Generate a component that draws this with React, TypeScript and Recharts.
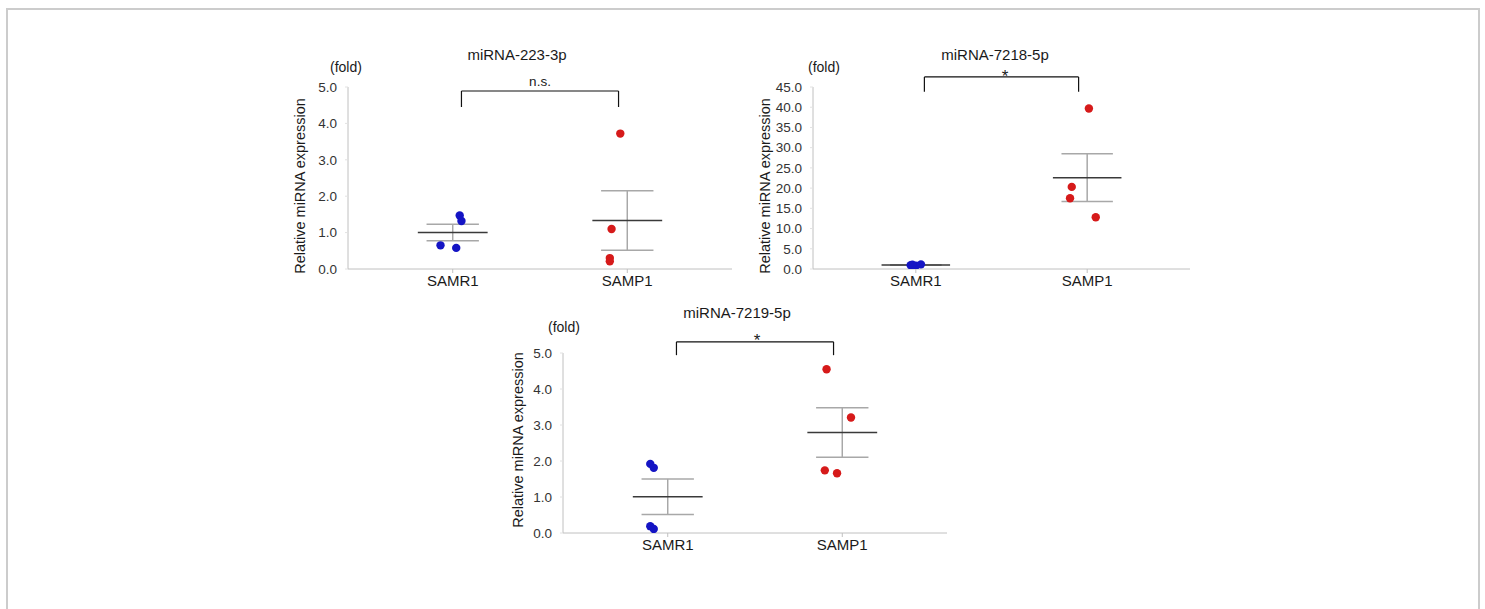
import React from 'react';
import { ComposedChart, Scatter, XAxis, YAxis, ReferenceLine } from 'recharts';

// group names and where they sit on the x scale
const groups = ['SAMR1', 'SAMP1'];
const groupPos = [0.6, 1.6];

// values (fold change)
const mir223Samr1 = [1.47, 1.32, 0.65, 0.58];
const mir223Samp1 = [3.72, 1.1, 0.3, 0.21];
const mir7218Samr1 = [0.95, 0.8, 1.15, 1.05];
const mir7218Samp1 = [39.7, 20.3, 17.5, 12.8];
const mir7219Samr1 = [1.92, 1.81, 0.19, 0.11];
const mir7219Samp1 = [4.55, 3.21, 1.74, 1.66];

// horizontal spread of the dots around each group
const jit223R = [0.04, 0.05, -0.07, 0.02];
const jit223P = [-0.04, -0.09, -0.1, -0.1];
const jit7218R = [-0.03, 0.0, 0.03, -0.02];
const jit7218P = [0.01, -0.09, -0.1, 0.05];
const jit7219R = [-0.1, -0.08, -0.1, -0.08];
const jit7219P = [-0.09, 0.05, -0.1, -0.03];

const ticks5 = [0, 1, 2, 3, 4, 5];
const ticks45 = [0, 5, 10, 15, 20, 25, 30, 35, 40, 45];

const FONT = '"Liberation Sans", Arial, sans-serif';
const BLUE = '#1414c4';
const RED = '#d61a1a';

const mean = (v: number[]) => v.reduce((a, b) => a + b, 0) / v.length;
const sem = (v: number[]) => {
  const m = mean(v);
  const sd = Math.sqrt(v.reduce((a, b) => a + (b - m) ** 2, 0) / (v.length - 1));
  return sd / Math.sqrt(v.length);
};

const toPoints = (vals: number[], jit: number[], pos: number) =>
  vals.map((y, i) => ({ x: pos + jit[i], y }));

const dot = (color: string) => (p: any) => <circle cx={p.cx} cy={p.cy} r={4.2} fill={color} />;

interface PanelProps {
  left: number;
  top: number;
  plotW: number;
  plotH: number;
  max: number;
  ticks: number[];
  r: number[];
  p: number[];
  jr: number[];
  jp: number[];
  bracket: [number, number];
}

function meanSemLines(vals: number[], pos: number, key: string) {
  const m = mean(vals);
  const s = sem(vals);
  const seg = (x1: number, y1: number, x2: number, y2: number, stroke: string, k: string) => (
    <ReferenceLine
      key={key + k}
      segment={[{ x: x1, y: y1 }, { x: x2, y: y2 }]}
      stroke={stroke}
      strokeWidth={1.5}
      ifOverflow="visible"
    />
  );
  return [
    seg(pos, m - s, pos, m + s, '#a8a8a8', 'v'),
    seg(pos - 0.15, m + s, pos + 0.15, m + s, '#a8a8a8', 't'),
    seg(pos - 0.15, m - s, pos + 0.15, m - s, '#a8a8a8', 'b'),
    seg(pos - 0.2, m, pos + 0.2, m, '#3a3a3a', 'm'),
  ];
}

function Panel({ left, top, plotW, plotH, max, ticks, r, p, jr, jp, bracket }: PanelProps) {
  const [bTop, bBot] = bracket;
  return (
    <div style={{ position: 'absolute', left, top }}>
      <ComposedChart width={40 + plotW} height={20 + plotH + 30} margin={{ top: 20, right: 0, bottom: 0, left: 0 }}>
        <XAxis
          type="number"
          dataKey="x"
          domain={[0, 2.2]}
          ticks={groupPos}
          interval={0}
          tickFormatter={(v: number) => groups[groupPos.indexOf(v)] ?? ''}
          height={30}
          stroke="#c0c0c0"
          tickSize={4}
          tick={{ fill: '#1a1a1a', fontSize: 15, fontFamily: FONT }}
          allowDataOverflow
        />
        <YAxis
          type="number"
          dataKey="y"
          domain={[0, max]}
          ticks={ticks}
          interval={0}
          tickFormatter={(v: number) => v.toFixed(1)}
          width={40}
          stroke="#c0c0c0"
          tickLine={{ stroke: '#e2e2e2' }}
          tickSize={3}
          tickMargin={8}
          tick={{ fill: '#333333', fontSize: 13.5, fontFamily: FONT }}
          allowDataOverflow
        />
        {meanSemLines(r, groupPos[0], 'r')}
        {meanSemLines(p, groupPos[1], 'p')}
        <ReferenceLine segment={[{ x: 0.65, y: bBot }, { x: 0.65, y: bTop }]} stroke="#111" strokeWidth={1.2} ifOverflow="visible" />
        <ReferenceLine segment={[{ x: 0.65, y: bTop }, { x: 1.55, y: bTop }]} stroke="#111" strokeWidth={1.2} ifOverflow="visible" />
        <ReferenceLine segment={[{ x: 1.55, y: bTop }, { x: 1.55, y: bBot }]} stroke="#111" strokeWidth={1.2} ifOverflow="visible" />
        <Scatter data={toPoints(r, jr, groupPos[0])} shape={dot(BLUE)} isAnimationActive={false} />
        <Scatter data={toPoints(p, jp, groupPos[1])} shape={dot(RED)} isAnimationActive={false} />
      </ComposedChart>
    </div>
  );
}

const Txt = ({ x, y, children, size = 14, anchor = 'center', rotate = false }: any) => (
  <div
    style={{
      position: 'absolute',
      left: x,
      top: y,
      transform: `translate(${anchor === 'left' ? '0' : '-50%'}, -50%)${rotate ? ' rotate(-90deg)' : ''}`,
      fontFamily: FONT,
      fontSize: size,
      color: '#1a1a1a',
      whiteSpace: 'nowrap',
      lineHeight: 1,
    }}
  >
    {children}
  </div>
);

export default function App() {
  return (
    <div style={{ position: 'absolute', left: 0, top: 0, width: 1485, height: 609, background: '#fff', overflow: 'hidden' }}>
      <div
        style={{
          position: 'absolute',
          left: 6,
          top: 8,
          width: 1470,
          height: 640,
          border: '2px solid #cccccc',
        }}
      />

      {/* miRNA-223-3p */}
      <Panel left={308} top={67} plotW={384} plotH={182} max={5} ticks={ticks5} r={mir223Samr1} p={mir223Samp1} jr={jit223R} jp={jit223P} bracket={[4.89, 4.45]} />
      <Txt x={517} y={54} size={15}>miRNA-223-3p</Txt>
      <Txt x={330} y={67} anchor="left">(fold)</Txt>
      <Txt x={540} y={82} size={13.5}>n.s.</Txt>
      <Txt x={300} y={186} size={14.5} rotate>Relative miRNA expression</Txt>

      {/* miRNA-7218-5p */}
      <Panel left={773} top={67} plotW={377} plotH={182} max={45} ticks={ticks45} r={mir7218Samr1} p={mir7218Samp1} jr={jit7218R} jp={jit7218P} bracket={[47.5, 43.8]} />
      <Txt x={995} y={54} size={15}>miRNA-7218-5p</Txt>
      <Txt x={808} y={67} anchor="left">(fold)</Txt>
      <Txt x={1005} y={76} size={17}>*</Txt>
      <Txt x={765} y={186} size={14.5} rotate>Relative miRNA expression</Txt>

      {/* miRNA-7219-5p */}
      <Panel left={523} top={333} plotW={384} plotH={180} max={5} ticks={ticks5} r={mir7219Samr1} p={mir7219Samp1} jr={jit7219R} jp={jit7219P} bracket={[5.31, 4.94]} />
      <Txt x={737} y={312} size={15}>miRNA-7219-5p</Txt>
      <Txt x={548} y={327} anchor="left">(fold)</Txt>
      <Txt x={757} y={340} size={17}>*</Txt>
      <Txt x={518} y={440} size={14.5} rotate>Relative miRNA expression</Txt>
    </div>
  );
}
